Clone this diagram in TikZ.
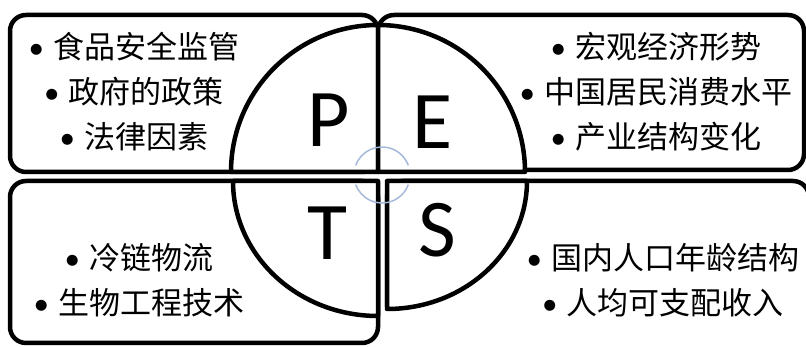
\documentclass[tikz,border=0pt]{standalone}
\usepackage{fontspec}
\newfontfamily\cjkfont{Noto Sans CJK SC}
\newfontfamily\letterfont{Carlito}
\usepackage{xcolor}
\definecolor{turnblue}{RGB}{165,185,218}
\newcommand\dotmark{{\letterfont •}\hspace{0.3em}}
\usetikzlibrary{arrows.meta}

\begin{document}
\begin{tikzpicture}[x=1pt, y=1pt,
  panel/.style={draw=black, line width=4.5pt, rounded corners=16pt, fill=white},
  quarter/.style={draw=black, line width=4.5pt, fill=white, line join=round},
  items/.style={align=center, inner sep=0pt, font=\cjkfont\fontsize{31}{45}\selectfont},
  letter/.style={inner sep=0pt, font=\letterfont\fontsize{82}{82}\selectfont},
  turnarc/.style={draw=turnblue, line width=1.5pt},
]
\useasboundingbox (0,0) rectangle (806,347);
\clip (0,0) rectangle (806,347);

% four panels
\draw[panel] (378,332) rectangle (804,177);
\draw[panel] (10,332) rectangle (378,175);
\draw[panel] (10,166) rectangle (378,4);
\draw[panel] (387,40) |- (809,166) -- (809,-20);

% quarter circles
\draw[quarter] (378,175) -- (231,175) arc[start angle=180, end angle=90, radius=147] -- cycle;
\draw[quarter] (378,175) -- (378,322) arc[start angle=90, end angle=0, radius=147] -- cycle;
\draw[quarter] (378,166) -- (233,166) arc[start angle=180, end angle=270, x radius=145, y radius=135] -- cycle;
\draw[quarter] (387,166) -- (527,166) arc[start angle=0, end angle=-90, x radius=140, y radius=128] -- cycle;

% turn arrows in the middle
\draw[turnarc] (382,172) ++(160:28) arc[start angle=160, end angle=20, radius=28];
\draw[turnarc] (382,172) ++(200:28) arc[start angle=200, end angle=340, radius=28];

% letters
\node[letter] (P) at (329,227) {P};
\node[letter] (E) at (433,225) {E};
\node[letter] (T) at (327,114) {T};
\node[letter] (S) at (437,117) {S};

% factor lists
\node[items] (pol) at (134,255) {\dotmark 食品安全监管\\\dotmark 政府的政策\\\dotmark 法律因素};
\node[items] (eco) at (656,255) {\dotmark 宏观经济形势\\\dotmark 中国居民消费水平\\\dotmark 产业结构变化};
\node[items] (tec) at (139,67) {\dotmark 冷链物流\\\dotmark 生物工程技术};
\node[items] (soc) at (663,67) {\dotmark 国内人口年龄结构\\\dotmark 人均可支配收入};
\end{tikzpicture}
\end{document}
